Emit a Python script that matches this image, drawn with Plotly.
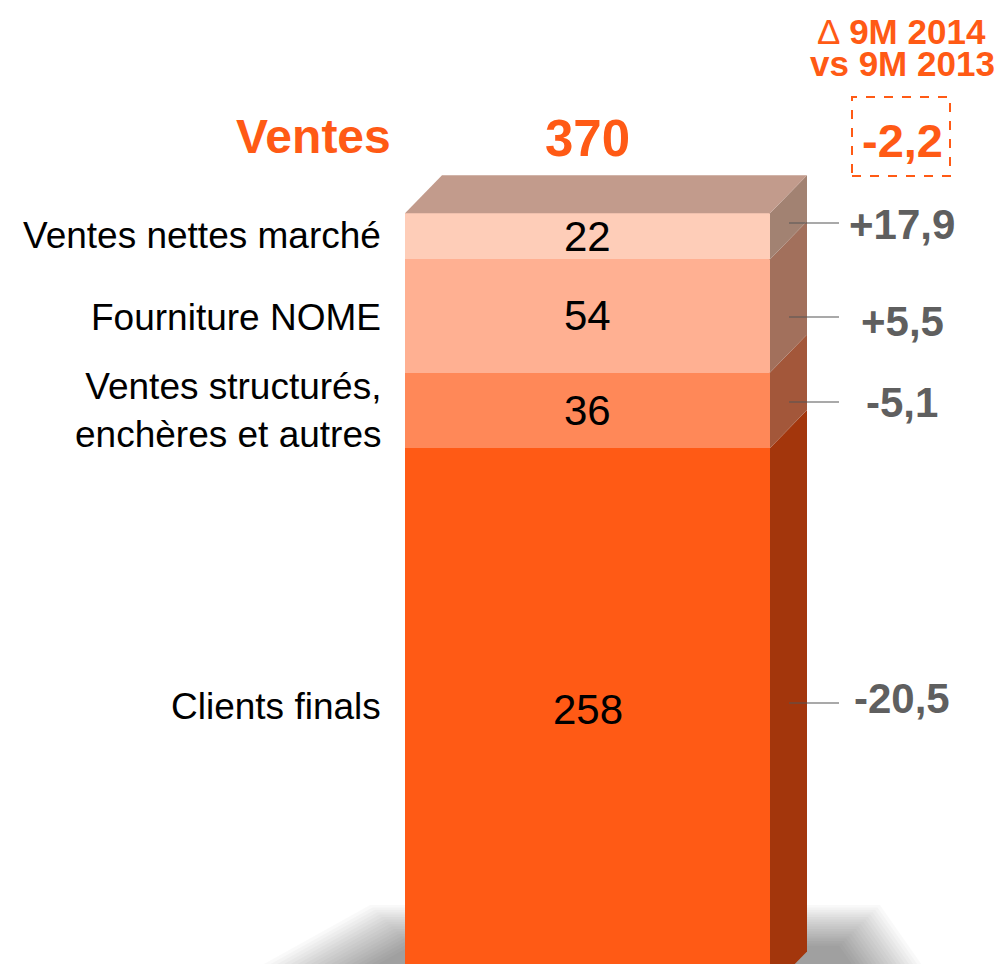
import plotly.graph_objects as go

# ---------------- data ----------------
categories = ["Clients finals", "Ventes structurés,<br>enchères et autres",
              "Fourniture NOME", "Ventes nettes marché"]
values = [258, 36, 54, 22]
deltas = ["-20,5", "-5,1", "+5,5", "+17,9"]
total_title = "Ventes"
total_label = "370"
total_delta = "-2,2"
delta_header = ["∆ <b>9M 2014</b>", "<b>vs 9M 2013</b>"]

# ---------------- styles ----------------
front_colors = ["#FF5A15", "#FF8858", "#FFB092", "#FECDB8"]
side_colors = ["#A3360C", "#A3573A", "#A2705C", "#A28272"]
top_color = "#C29B8C"
orange = "#FF5A15"
gray = "#5F5F5F"
FONT = "Liberation Sans, Arial, sans-serif"

W, H = 1003, 964
OFF = 8                      # page body margin
PX_PER_UNIT = 2.098
BASE_PX = 989.4              # window row of value 0
y_lo = (BASE_PX - OFF - H) / PX_PER_UNIT
y_hi = (BASE_PX - OFF) / PX_PER_UNIT

BAR_X = 587.5
BAR_W = 365
DX = 37
DY = 38 / PX_PER_UNIT
X0 = BAR_X - BAR_W / 2
X1 = BAR_X + BAR_W / 2


def py(r):
    """window pixel row -> paper coordinate"""
    return 1 - (r - OFF) / H


fig = go.Figure()

# front faces (stacked bars)
for cat, v, c in zip(categories, values, front_colors):
    fig.add_trace(go.Bar(x=[BAR_X], y=[v], width=BAR_W, marker=dict(color=c, line=dict(width=0)),
                         name=cat, hoverinfo="skip"))

# side faces
bottom = 0
for v, c in zip(values, side_colors):
    top = bottom + v
    fig.add_trace(go.Scatter(x=[X1, X1 + DX, X1 + DX, X1, X1],
                             y=[bottom, bottom + DY, top + DY, top, bottom],
                             fill="toself", fillcolor=c, mode="lines", line=dict(width=0),
                             hoverinfo="skip"))
    bottom = top
total = bottom

# top face
fig.add_trace(go.Scatter(x=[X0, X0 + DX, X1 + DX, X1, X0],
                         y=[total, total + DY, total + DY, total, total],
                         fill="toself", fillcolor=top_color, mode="lines", line=dict(width=0),
                         hoverinfo="skip"))

shapes = []
# soft shadow under the bar (trapezoid, blurred by stacking)
n_layers = 18
for k in range(n_layers):
    d = k * 2.4 - 20
    top_r = 925 + d
    bot_r = 1010
    lt, rt = 390 + d, 860 - d
    lb = lt - (bot_r - top_r) * 1.8
    rb = rt + (bot_r - top_r) * 0.7
    path = (f"M {lt},{py(top_r)} L {rt},{py(top_r)} L {rb},{py(bot_r)} "
            f"L {lb},{py(bot_r)} Z")
    shapes.append(dict(type="path", path=path, xref="x", yref="paper",
                       fillcolor="rgba(0,0,0,0.025)", line=dict(width=0), layer="below"))

# leader lines and right-side labels
label_rows = [706, 410, 317, 235]
delta_rows = [698, 402, 322, 225]
line_rows = [703, 402, 317, 223]
annotations = []
for lr in line_rows:
    shapes.append(dict(type="line", xref="x", yref="paper", x0=789, x1=839,
                       y0=py(lr), y1=py(lr), line=dict(color="#555555", width=1.2)))

# dashed box around total delta
shapes.append(dict(type="rect", xref="x", yref="paper", x0=852, x1=950, y0=py(176), y1=py(97),
                   line=dict(color=orange, width=2, dash="dash"), fillcolor="rgba(0,0,0,0)"))

# values in bar
bottom = 0
for v in values:
    annotations.append(dict(x=BAR_X, y=bottom + v / 2, xref="x", yref="y", text=str(v),
                            showarrow=False, font=dict(family=FONT, size=42, color="black"),
                            xanchor="center", yanchor="middle"))
    bottom += v
annotations[0]["yshift"] = 9

# category labels on the left
for cat, r in zip(categories, label_rows):
    annotations.append(dict(x=383, y=py(r), xref="x", yref="paper", text=cat, showarrow=False,
                            font=dict(family=FONT, size=37, color="black"), align="right",
                            xanchor="right", yanchor="middle"))

# deltas on the right
for d_txt, r in zip(deltas, delta_rows):
    annotations.append(dict(x=902, y=py(r), xref="x", yref="paper", text=f"<b>{d_txt}</b>",
                            showarrow=False, font=dict(family=FONT, size=42, color=gray),
                            xanchor="center", yanchor="middle"))

# header texts
annotations.append(dict(x=393, y=py(137), xref="x", yref="paper", text=f"<b>{total_title}</b>",
                        showarrow=False, font=dict(family=FONT, size=48, color=orange),
                        xanchor="right", yanchor="middle"))
annotations.append(dict(x=BAR_X, y=py(139), xref="x", yref="paper", text=f"<b>{total_label}</b>",
                        showarrow=False, font=dict(family=FONT, size=51, color=orange),
                        xanchor="center", yanchor="middle"))
annotations.append(dict(x=902, y=py(141), xref="x", yref="paper", text=f"<b>{total_delta}</b>",
                        showarrow=False, font=dict(family=FONT, size=47, color=orange),
                        xanchor="center", yanchor="middle"))
for txt, r in zip(delta_header, [31, 63]):
    annotations.append(dict(x=902, y=py(r), xref="x", yref="paper", text=txt,
                            showarrow=False, font=dict(family=FONT, size=35, color=orange),
                            xanchor="center", yanchor="middle", borderpad=0))

fig.update_layout(
    width=W, height=H, margin=dict(l=0, r=0, t=0, b=0),
    paper_bgcolor="white", plot_bgcolor="white",
    barmode="stack", bargap=0, showlegend=False,
    xaxis=dict(range=[OFF, W + OFF], visible=False, fixedrange=True),
    yaxis=dict(range=[y_lo, y_hi], visible=False, fixedrange=True),
    shapes=shapes, annotations=annotations,
)

fig.write_html("out.html")
